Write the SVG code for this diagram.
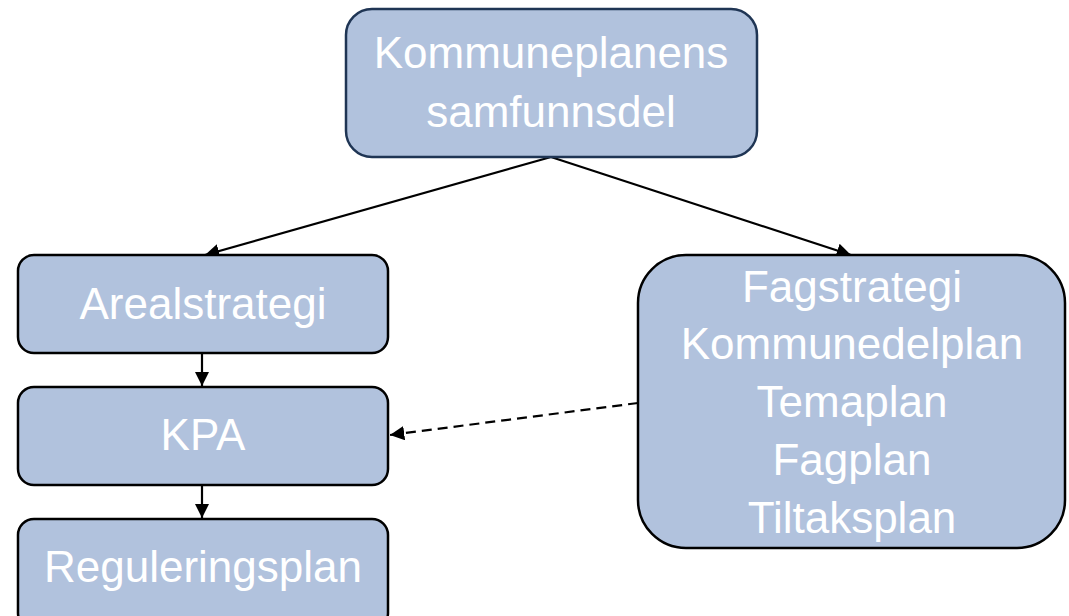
<svg xmlns="http://www.w3.org/2000/svg" width="1069" height="616" viewBox="0 0 1069 616">
<style>
.box{fill:#b1c2dd;stroke:#000;stroke-width:2.5}
.top{fill:#b1c2dd;stroke:#1f3554;stroke-width:2.5}
.t{font-family:"Liberation Sans",Arial,sans-serif;font-size:44px;fill:#fff;text-anchor:middle}
.c{stroke:#000;stroke-width:2.2;fill:none}
</style>
<defs>
<marker id="ah" viewBox="0 0 10 10" refX="10" refY="5" markerWidth="6.5" markerHeight="6.5" markerUnits="strokeWidth" orient="auto">
<path d="M0,0 L10,5 L0,10 z" fill="#000"/>
</marker>
</defs>
<rect x="0" y="0" width="1069" height="616" fill="#fff"/>
<g id="connectors">
<line class="c" x1="551" y1="157" x2="205" y2="255" marker-end="url(#ah)"/>
<line class="c" x1="551" y1="157" x2="851" y2="255" marker-end="url(#ah)"/>
<line class="c" x1="202" y1="353" x2="202" y2="386" marker-end="url(#ah)"/>
<line class="c" x1="202" y1="485" x2="202" y2="518" marker-end="url(#ah)"/>
<line class="c" x1="638" y1="403" x2="390" y2="435" stroke-dasharray="10,6" marker-end="url(#ah)"/>
</g>
<g id="samfunnsdel">
<rect class="top" x="346" y="9" width="411" height="148" rx="26"/>
<text class="t" x="551" y="68">Kommuneplanens</text>
<text class="t" x="551" y="127">samfunnsdel</text>
</g>
<g id="arealstrategi">
<rect class="box" x="18" y="255" width="370" height="98" rx="16"/>
<text class="t" x="203" y="319">Arealstrategi</text>
</g>
<g id="kpa">
<rect class="box" x="18" y="387" width="370" height="98" rx="16"/>
<text class="t" x="203" y="450">KPA</text>
</g>
<g id="reguleringsplan">
<rect class="box" x="18" y="519" width="370" height="110" rx="16"/>
<text class="t" x="203" y="582">Reguleringsplan</text>
</g>
<g id="fagstrategi">
<rect class="box" x="638" y="255" width="427" height="293" rx="48"/>
<text class="t" x="852" y="302">Fagstrategi</text>
<text class="t" x="852" y="359">Kommunedelplan</text>
<text class="t" x="852" y="417">Temaplan</text>
<text class="t" x="852" y="475">Fagplan</text>
<text class="t" x="852" y="533">Tiltaksplan</text>
</g>
</svg>
